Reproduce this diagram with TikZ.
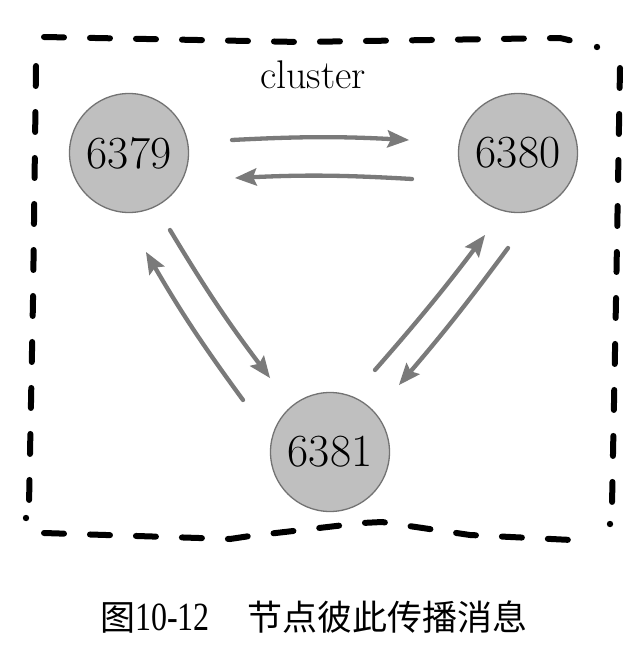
\documentclass[tikz,border=0pt]{standalone}
\usepackage{fontspec}
\newfontfamily\cjk{Noto Sans CJK SC}
\newfontfamily\tnr{Liberation Serif}
\usetikzlibrary{arrows.meta,calc}
\begin{document}
\begin{tikzpicture}[x=1pt,y=-1pt,
 srv/.style={circle,draw=black!55,line width=1.3pt,fill=black!25,minimum size=119pt,inner sep=0pt,font=\fontsize{46}{46}\selectfont},
 msg/.style={draw=black!52,line width=4.3pt,line cap=round,-{Stealth[length=22pt,width=18pt,inset=4pt,line width=0pt]}},
 border/.style={line width=6pt,dash pattern=on 20pt off 26pt,line cap=round},
 corner/.style={fill=black}]
\useasboundingbox[fill=white] (0,0) rectangle (644,656);
% border
\draw[border] (44,37) -- (300,42) -- (560,38) -- (590,45);
\draw[border] (36,66) -- (33,300) -- (29,505);
\draw[border] (620,68) -- (616,300) -- (612,505);
\draw[border] (44,533) -- (230,539) -- (250,536) -- (362,523) -- (382,522) -- (470,535) -- (592,541);
\fill[corner] (597,47) circle (3.2);
\fill[corner] (26,518) circle (3.2);
\fill[corner] (610,524) circle (3.2);
% label
\node[anchor=base,font=\fontsize{40}{40}\selectfont] (lbl) at (313,88) {cluster};
% servers
\node[srv] (a) at (129,153) {6379};
\node[srv] (b) at (518,153) {6380};
\node[srv] (c) at (330,452) {6381};
% messages
\draw[msg] ($(a)+(103,-13)$) to[bend left=3] ($(b)+(-109,-13)$);
\draw[msg] ($(b)+(-106,26)$) to[bend right=3] ($(a)+(106,25)$);
\draw[msg] ($(a)+(41,77)$) to[bend right=3] ($(c)+(-60,-74)$);
\draw[msg] ($(c)+(-87,-52)$) to[bend left=3] ($(a)+(17,99)$);
\draw[msg] ($(c)+(45,-82)$) to[bend right=2] ($(b)+(-33,82)$);
\draw[msg] ($(b)+(-10,95)$) to[bend left=2] ($(c)+(69,-67)$);
% caption
\node[anchor=base west,inner sep=0pt] (cap) at (100,630) {\fontsize{35}{35}\selectfont{\cjk 图}\scalebox{0.8}[1]{\fontsize{40}{40}\selectfont\tnr 10-12}\hspace{38pt}{\cjk 节点彼此传播消息}};
\end{tikzpicture}
\end{document}
